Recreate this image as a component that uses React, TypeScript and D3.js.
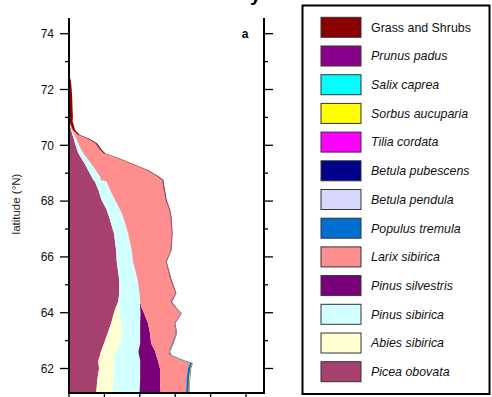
import React from "react";
import * as d3 from "d3";

// Latitudes (°N) at which the stacked composition was read
const lats = [61.0, 61.6, 62.0, 62.2, 62.3, 62.48, 62.6, 62.9, 63.26, 63.62, 63.98, 64.15, 64.39, 64.7, 65.17, 65.83, 66.25, 66.85, 67.44, 67.7, 68.04, 68.4, 68.7, 68.76, 68.87, 69.11, 69.35, 69.59, 69.71, 69.83, 70.07, 70.25, 70.37, 70.55, 70.79, 70.85, 71.0, 71.3, 71.75, 72.1, 72.35, 72.45];

// Series values (layer thickness along x)
const piceaObovata = [0.76, 0.80, 0.85, 0.83, 0.83, 0.88, 0.90, 0.99, 1.09, 1.19, 1.27, 1.31, 1.39, 1.42, 1.42, 1.35, 1.33, 1.27, 1.13, 1.06, 0.92, 0.83, 0.73, 0.69, 0.64, 0.54, 0.44, 0.32, 0.27, 0.23, 0.17, 0.13, 0.10, 0.06, 0.01, 0, 0, 0, 0, 0, 0, 0];
const abiesSibirica = [0.49, 0.45, 0.42, 0.43, 0.42, 0.42, 0.44, 0.46, 0.41, 0.28, 0.16, 0.12, 0, 0, 0, 0, 0, 0, 0, 0, 0, 0, 0, 0, 0, 0, 0, 0, 0, 0, 0, 0, 0, 0, 0, 0, 0, 0, 0, 0, 0, 0];
const pinusSibirica = [0.74, 0.76, 0.74, 0.75, 0.76, 0.68, 0.62, 0.56, 0.51, 0.54, 0.59, 0.58, 0.62, 0.57, 0.52, 0.46, 0.44, 0.40, 0.40, 0.38, 0.38, 0.33, 0.33, 0.21, 0.24, 0.22, 0.18, 0.16, 0.14, 0.12, 0.09, 0.07, 0.06, 0.02, 0.01, 0, 0, 0, 0, 0, 0, 0];
const pinusSilvestris = [0.60, 0.56, 0.56, 0.52, 0.50, 0.48, 0.48, 0.31, 0.28, 0.22, 0.10, 0.05, 0, 0, 0, 0, 0, 0, 0, 0, 0, 0, 0, 0, 0, 0, 0, 0, 0, 0, 0, 0, 0, 0, 0, 0, 0, 0, 0, 0, 0, 0];
const larixSibirica = [0.72, 0.75, 0.79, 0.89, 0.68, 0.38, 0.37, 0.59, 0.72, 0.74, 1.03, 0.96, 0.86, 1.02, 0.93, 0.92, 1.10, 1.23, 1.34, 1.39, 1.43, 1.52, 1.58, 1.73, 1.63, 1.44, 1.12, 0.79, 0.57, 0.53, 0.48, 0.30, 0.10, 0.03, 0.01, 0, 0, 0, 0, 0, 0, 0];
const populusTremula = [0.06, 0.06, 0.06, 0.06, 0.05, 0.04, 0.02, 0.01, 0.01, 0.005, 0.005, 0.005, 0.005, 0.005, 0, 0, 0, 0, 0, 0, 0, 0, 0, 0, 0, 0, 0, 0, 0, 0, 0, 0, 0, 0, 0, 0, 0, 0, 0, 0, 0, 0];
const betulaPendula = [0, 0, 0, 0, 0, 0, 0, 0, 0, 0, 0, 0, 0, 0, 0, 0, 0, 0, 0, 0, 0, 0, 0, 0, 0, 0, 0, 0, 0, 0, 0, 0, 0, 0, 0, 0, 0, 0, 0, 0, 0, 0];
const betulaPubescens = [0.01, 0.01, 0.01, 0, 0, 0, 0.005, 0.01, 0.01, 0.005, 0.005, 0.01, 0.01, 0.005, 0.01, 0.01, 0.01, 0.005, 0.01, 0.01, 0.01, 0.01, 0.01, 0.01, 0.01, 0.01, 0.005, 0.01, 0.01, 0.01, 0.01, 0.005, 0.005, 0, 0, 0, 0, 0, 0, 0, 0, 0];
const tiliaCordata = [0, 0, 0, 0, 0, 0, 0, 0, 0, 0.005, 0.005, 0, 0, 0, 0, 0, 0, 0, 0, 0, 0, 0, 0, 0, 0, 0, 0, 0, 0, 0, 0, 0, 0, 0, 0, 0, 0, 0, 0, 0, 0, 0];
const sorbusAucuparia = [0.02, 0.02, 0.01, 0.01, 0.01, 0.01, 0.01, 0.005, 0.01, 0.005, 0.01, 0.005, 0, 0, 0, 0.005, 0.005, 0, 0, 0, 0, 0, 0, 0, 0, 0, 0, 0, 0, 0, 0, 0, 0, 0, 0, 0, 0, 0, 0, 0, 0, 0];
const salixCaprea = [0, 0, 0, 0, 0, 0, 0, 0, 0, 0, 0, 0, 0, 0, 0, 0, 0, 0, 0, 0, 0, 0, 0, 0, 0, 0, 0, 0, 0, 0, 0, 0, 0, 0, 0, 0, 0, 0, 0, 0, 0, 0];
const prunusPadus = [0, 0, 0, 0, 0, 0, 0, 0, 0.005, 0, 0.005, 0, 0.005, 0, 0.005, 0, 0, 0.005, 0, 0, 0, 0, 0, 0, 0, 0, 0, 0, 0, 0, 0, 0, 0, 0, 0, 0, 0, 0, 0, 0, 0, 0];
const grassShrubs = [0.01, 0.01, 0.01, 0.01, 0.01, 0.01, 0.01, 0.015, 0.01, 0.015, 0.01, 0.015, 0.015, 0.015, 0.015, 0.015, 0.015, 0.015, 0.015, 0.015, 0.02, 0.02, 0.02, 0.03, 0.03, 0.03, 0.035, 0.03, 0.04, 0.04, 0.04, 0.045, 0.045, 0.06, 0.09, 0.10, 0.11, 0.10, 0.09, 0.07, 0.05, 0];

// Legend order (top to bottom)
const legendLabels = ["Grass and Shrubs", "Prunus padus", "Salix caprea", "Sorbus aucuparia", "Tilia cordata", "Betula pubescens", "Betula pendula", "Populus tremula", "Larix sibirica", "Pinus silvestris", "Pinus sibirica", "Abies sibirica", "Picea obovata"];
const legendColors = ["#8b0000", "#8b008b", "#00ffff", "#ffff00", "#ff00ff", "#00008b", "#d8d8ff", "#0070d0", "#ff8f8f", "#780078", "#d2ffff", "#ffffd2", "#a6416f"];
const seriesValues = [grassShrubs, prunusPadus, salixCaprea, sorbusAucuparia, tiliaCordata, betulaPubescens, betulaPendula, populusTremula, larixSibirica, pinusSilvestris, pinusSibirica, abiesSibirica, piceaObovata];

const latMajorTicks = [62, 64, 66, 68, 70, 72, 74];
const latMinorTicks = [63, 65, 67, 69, 71, 73];
const xTicks = [0, 1, 2, 3, 4, 5];

export default function App() {
  const W = 492, H = 397;
  const left = 69, right = 264, top = 18, bottom = 393;
  const x = d3.scaleLinear().domain([0, 5]).range([69, 246]);
  const y = d3.scaleLinear().domain([62, 74]).range([368.5, 33.7]);

  const keys = legendLabels.slice().reverse();
  const rows = lats.map((lat, i) => {
    const r: any = { lat };
    legendLabels.forEach((k, j) => { r[k] = seriesValues[j][i]; });
    return r;
  });
  const stacked = d3.stack<any>().keys(keys)(rows);
  const area = d3.area<any>()
    .y((d) => y(d.data.lat))
    .x0((d) => x(d[0]))
    .x1((d) => x(d[1]))
    .curve(d3.curveLinear);

  const colorOf = (k: string) => legendColors[legendLabels.indexOf(k)];
  const font = "'Liberation Sans', Arial, Helvetica, sans-serif";

  return (
    <svg width={W} height={H} style={{ position: "absolute", left: 0, top: 0, background: "#fff" }} fontFamily={font}>
      <defs>
        <clipPath id="plotclip">
          <rect x={left} y={top} width={right - left} height={bottom - top} />
        </clipPath>
      </defs>
      <text x={250} y={1} fontSize={20} fontWeight="bold" fill="#000">y</text>
      <g clipPath="url(#plotclip)">
        {stacked.map((s) => (
          <path key={s.key} d={area(s as any) || ""} fill={colorOf(s.key)} stroke="none" />
        ))}
      </g>
      {/* axes */}
      <g stroke="#000" strokeWidth={2} fill="none">
        <line x1={left} y1={top} x2={left} y2={bottom + 1} />
        <line x1={right} y1={top} x2={right} y2={bottom + 1} />
        <line x1={left - 1} y1={bottom} x2={right + 1} y2={bottom} />
        {latMajorTicks.map((t) => (
          <g key={"M" + t}>
            <line x1={left - 9} x2={left} y1={y(t)} y2={y(t)} strokeWidth={1.3} />
            <line x1={right} x2={right + 9} y1={y(t)} y2={y(t)} strokeWidth={1.3} />
          </g>
        ))}
        {latMinorTicks.map((t) => (
          <g key={"m" + t}>
            <line x1={left - 4} x2={left} y1={y(t)} y2={y(t)} strokeWidth={1.3} />
            <line x1={right} x2={right + 4} y1={y(t)} y2={y(t)} strokeWidth={1.3} />
          </g>
        ))}
        {xTicks.map((t) => (
          <line key={"x" + t} x1={x(t)} x2={x(t)} y1={bottom} y2={bottom + 8} strokeWidth={1.3} />
        ))}
      </g>
      {latMajorTicks.map((t) => (
        <text key={"l" + t} x={54} y={y(t)} dy="0.36em" textAnchor="end" fontSize={12} fill="#111">{t}</text>
      ))}
      <text transform={`translate(20,204) rotate(-90)`} textAnchor="middle" fontSize={11.5} fill="#222">latitude (°N)</text>
      <text x={245} y={38} textAnchor="middle" fontSize={12} fontWeight="bold" fill="#000">a</text>
      {/* legend */}
      <rect x={302.5} y={5.5} width={187} height={388.5} fill="#fff" stroke="#000" strokeWidth={2} />
      {legendLabels.map((lab, i) => {
        const yy = 17.3 + i * 28.7;
        return (
          <g key={lab}>
            <rect x={321} y={yy} width={40} height={20} fill={legendColors[i]} stroke="#333" strokeWidth={1} />
            <text x={371} y={yy + 14.3} fontSize={12.4} fontStyle={i === 0 ? "normal" : "italic"} fill="#111">{lab}</text>
          </g>
        );
      })}
    </svg>
  );
}
